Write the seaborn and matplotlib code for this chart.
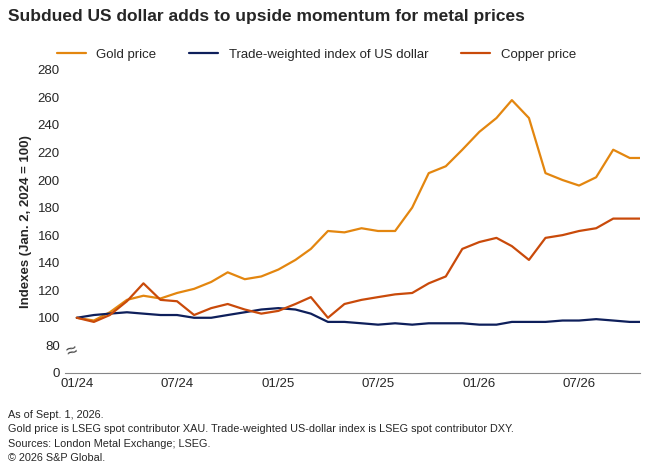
import matplotlib
matplotlib.use("Agg")
import matplotlib.pyplot as plt
import seaborn as sns
import pandas as pd

months = pd.date_range("2024-01-01", periods=35, freq="MS")
gold = [100, 98, 104, 113, 116, 114, 118, 121, 126, 133, 128, 130,
        135, 142, 150, 163, 162, 165, 163, 163, 180, 205, 210, 222,
        235, 245, 258, 245, 205, 200, 196, 202, 222, 216, 216]
copper = [100, 97, 102, 112, 125, 113, 112, 102, 107, 110, 106, 103,
          105, 110, 115, 100, 110, 113, 115, 117, 118, 125, 130, 150,
          155, 158, 152, 142, 158, 160, 163, 165, 172, 172, 172]
dollar = [100, 102, 103, 104, 103, 102, 102, 100, 100, 102, 104, 106,
          107, 106, 103, 97, 97, 96, 95, 96, 95, 96, 96, 96,
          95, 95, 97, 97, 97, 98, 98, 99, 98, 97, 97]
tick_dates = ["2024-01-01", "2024-07-01", "2025-01-01", "2025-07-01", "2026-01-01", "2026-07-01"]
tick_labels = ["01/24", "07/24", "01/25", "07/25", "01/26", "07/26"]
y_ticks = [60, 80, 100, 120, 140, 160, 180, 200, 220, 240, 260, 280]
y_labels = ["0"] + [str(v) for v in y_ticks[1:]]

sns.set_style("ticks")
plt.rcParams["font.family"] = ["Liberation Sans", "DejaVu Sans"]

fig = plt.figure(figsize=(6.6, 4.75), dpi=100)
ax = fig.add_axes([0.098, 0.215, 0.872, 0.638])
df = pd.DataFrame({"date": months, "gold": gold, "copper": copper, "dollar": dollar})
sns.lineplot(data=df, x="date", y="gold", color="#E3860F", lw=1.6, ax=ax, label="Gold price")
sns.lineplot(data=df, x="date", y="dollar", color="#0E1F5B", lw=1.6, ax=ax, label="Trade-weighted index of US dollar")
sns.lineplot(data=df, x="date", y="copper", color="#C94A0A", lw=1.6, ax=ax, label="Copper price")
ax.set_xlim(pd.Timestamp("2023-12-10"), pd.Timestamp("2026-10-20"))
ax.set_ylim(60, 280)
ax.set_yticks(y_ticks)
ax.set_yticklabels(y_labels)
ax.set_xticks(pd.to_datetime(tick_dates))
ax.set_xticklabels(tick_labels)
ax.set_xlabel("")
ax.set_ylabel("Indexes (Jan. 2, 2024 = 100)", fontsize=9.5, fontweight="bold")
ax.tick_params(labelsize=9.5, length=0)
sns.despine(ax=ax, left=True)
ax.spines["bottom"].set_color("#888888")
ax.text(0.012, 0.07, "≈", transform=ax.transAxes, fontsize=14, rotation=20,
        ha="center", va="center", color="#444444")
ax.legend(loc="lower left", bbox_to_anchor=(-0.03, 1.0), ncol=3, frameon=False,
          fontsize=9.5, handlelength=2.2, columnspacing=2.5, borderaxespad=0.3)
fig.text(0.012, 0.955, "Subdued US dollar adds to upside momentum for metal prices",
         fontsize=12.5, fontweight="bold")
foot = ("As of Sept. 1, 2026.\n"
        "Gold price is LSEG spot contributor XAU. Trade-weighted US-dollar index is LSEG spot contributor DXY.\n"
        "Sources: London Metal Exchange; LSEG.\n"
        "© 2026 S&P Global.")
fig.text(0.012, 0.025, foot, fontsize=7.8, linespacing=1.55, va="bottom")
fig.savefig("out.png", dpi=100)
